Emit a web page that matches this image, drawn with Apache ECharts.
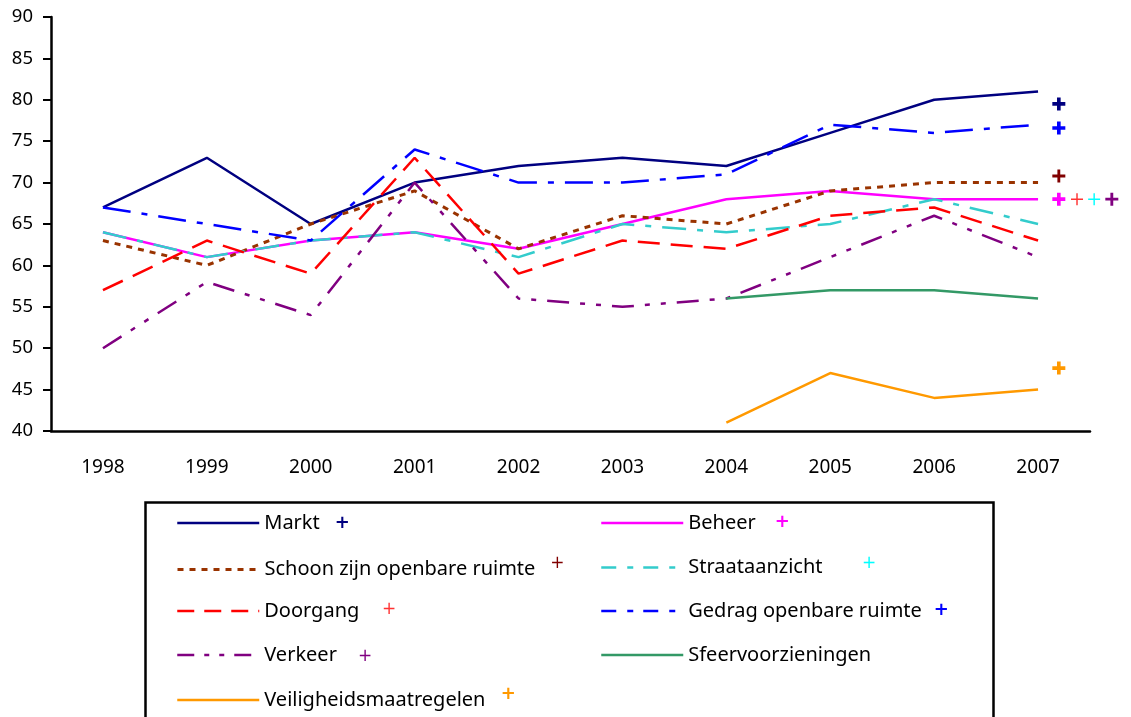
<!DOCTYPE html>
<html><head><meta charset="utf-8">
<script src="https://cdn.jsdelivr.net/npm/echarts@6/dist/echarts.min.js"></script>
<style>html,body{margin:0;padding:0;background:#fff}#c{width:1131px;height:717px}</style>
</head><body><div id="c"></div>
<script>
// ---- data ----
const years = ['1998','1999','2000','2001','2002','2003','2004','2005','2006','2007'];
const seriesNames = ['Markt','Beheer','Schoon zijn openbare ruimte','Straataanzicht','Doorgang','Gedrag openbare ruimte','Verkeer','Sfeervoorzieningen','Veiligheidsmaatregelen'];
const markt    = [67,73,65,70,72,73,72,76,80,81];
const beheer   = [64,61,63,64,62,65,68,69,68,68];
const schoon   = [63,60,65,69,62,66,65,69,70,70];
const straat   = [64,61,63,64,61,65,64,65,68,65];
const doorgang = [57,63,59,73,59,63,62,66,67,63];
const gedrag   = [67,65,63,74,70,70,71,77,76,77];
const verkeer  = [50,58,54,70,56,55,56,61,66,61];
const sfeer    = [null,null,null,null,null,null,56,57,57,56];
const veilig   = [null,null,null,null,null,null,41,47,44,45];
// "+" marks next to 2007 (value level), in order of seriesNames (Sfeervoorzieningen has none)
const plusValues = [79.5, 68, 70.8, 68, 68, 76.6, 68, null, 47.6];
const yMin = 40, yMax = 90, yStep = 5;

// ---- styles / layout ----
const colors = ['#000080','#FF00FF','#993300','#33CCCC','#FF0000','#0000FF','#800080','#339966','#FF9900'];
const plusColors = ['#000080','#FF00FF','#800000','#00FFFF','#FF3333','#0000FF','#800080',null,'#FF9900'];
const chartDash = ['solid','solid',[6,6],[24,11,6,11],[22,11],[28,11,6,11],[22,11,5,11,5,11],'solid','solid'];
const legendDash = ['solid','solid',[6,6],[15,11,6,10],[17,10],[15,11,6,10],[17,10,5,10,5,10],'solid','solid'];
const lineWidths = [2.5,2.5,3,2.5,2.5,2.5,2.5,2.5,2.5];
// plus placement: horizontal slot (in category units, 0..10 across plot) and thickness
const plusSlot = [9.70, 9.70, 9.70, 10.04, 9.875, 9.70, 10.21, null, 9.70];
const plusWeight = ['bold','bold','med','thin','thin','bold','med',null,'bold'];
// legend layout
const legendCol = [0,1,0,1,0,1,0,1,0];
const legendRow = [0,0,1,1,2,2,3,3,4];
const colLeft = [176, 600];
const rowCenter = [523, 567, 611, 655, 697];
const legendPlusOffset = [78, 94, 293, 181, 125, 253, 101, null, 244]; // plus centre from text start
const legendPlusRaise = [0, 1, 6, 4, 1, 1, -2, 0, 6];
const legendPlusBold = [true,true,false,false,false,true,false,false,true];

const plusPaths = {
  bold: 'path://M3.6,0H6.4V3.6H10V6.4H6.4V10H3.6V6.4H0V3.6H3.6Z',
  med:  'path://M3.9,0H6.1V3.9H10V6.1H6.1V10H3.9V6.1H0V3.9H3.9Z',
  thin: 'path://M4.4,0H5.6V4.4H10V5.6H5.6V10H4.4V5.6H0V4.4H4.4Z'
};
const allData = [markt, beheer, schoon, straat, doorgang, gedrag, verkeer, sfeer, veilig];
const FONT = 'Noto Sans';
const PLUSFONT = 'DejaVu Sans';

const lineSeries = seriesNames.map((n, i) => ({
  name: n, type: 'line', xAxisIndex: 0, yAxisIndex: 0,
  data: allData[i].map(v => v === null ? '-' : v),
  symbol: 'none', connectNulls: false, silent: true,
  lineStyle: { color: colors[i], width: lineWidths[i], type: chartDash[i], cap: 'butt' },
  itemStyle: { color: colors[i] },
  z: 2 + i
}));

const plusData = [];
seriesNames.forEach((n, i) => {
  if (plusValues[i] === null) return;
  plusData.push({
    value: [plusSlot[i], plusValues[i]],
    symbol: plusPaths[plusWeight[i]],
    symbolSize: plusWeight[i] === 'thin' ? 12 : 13,
    itemStyle: { color: plusColors[i], opacity: 1 }
  });
});

const legends = seriesNames.map((n, i) => {
  const hasPlus = legendPlusOffset[i] !== null;
  const plusFont = legendPlusBold[i] ? 18 : 17;
  return {
    data: [n], orient: 'horizontal',
    left: colLeft[legendCol[i]], top: rowCenter[legendRow[i]] - 12,
    padding: 0, itemWidth: 82, itemHeight: 14, selectedMode: false,
    itemStyle: { opacity: 0 },
    lineStyle: { type: legendDash[i], width: lineWidths[i] },
    formatter: name => hasPlus ? '{n|' + name + '}{p|+}' : '{n|' + name + '}',
    textStyle: {
      fontFamily: FONT, fontSize: 20, color: '#000', lineHeight: 24,
      rich: {
        n: { fontFamily: FONT, fontSize: 20, color: '#000', lineHeight: 24,
             width: hasPlus ? legendPlusOffset[i] - plusFont * 0.42 : undefined },
        p: { fontFamily: PLUSFONT, fontSize: plusFont, lineHeight: 24,
             fontWeight: legendPlusBold[i] ? 'bold' : 'normal',
             color: plusColors[i] || '#000',
             padding: [0, 0, legendPlusRaise[i] * 2, 0] }
      }
    }
  };
});

const option = {
  animation: false,
  backgroundColor: '#fff',
  grid: { left: 51, right: 41, top: 17, bottom: 286, containLabel: false },
  xAxis: [
    { type: 'category', data: years, boundaryGap: true,
      axisLine: { show: true, lineStyle: { color: '#000', width: 2.5 } },
      axisTick: { show: false },
      axisLabel: { color: '#000', fontFamily: FONT, fontSize: 19, margin: 27 },
      splitLine: { show: false } },
    { type: 'value', min: 0, max: 10, show: false, splitLine: { show: false } }
  ],
  yAxis: [{
    type: 'value', min: yMin, max: yMax, interval: yStep,
    axisLine: { show: true, lineStyle: { color: '#000', width: 2.5 } },
    axisTick: { show: true, inside: false, length: 8, lineStyle: { color: '#000', width: 2 } },
    axisLabel: { color: '#000', fontFamily: FONT, fontSize: 18.5, margin: 18 },
    splitLine: { show: false }
  }],
  legend: legends,
  series: lineSeries.concat([{
    name: 'plus', type: 'scatter', xAxisIndex: 1, yAxisIndex: 0,
    data: plusData, clip: false, silent: true, z: 20
  }]),
  graphic: [{
    type: 'rect', left: 143, top: 500, silent: true,
    shape: { width: 848, height: 300 },
    style: { fill: 'none', stroke: '#000', lineWidth: 2.5 }, z: -1
  }]
};
const chart = echarts.init(document.getElementById('c'), null, { renderer: 'canvas' });
chart.setOption(option);
</script>
</body></html>
